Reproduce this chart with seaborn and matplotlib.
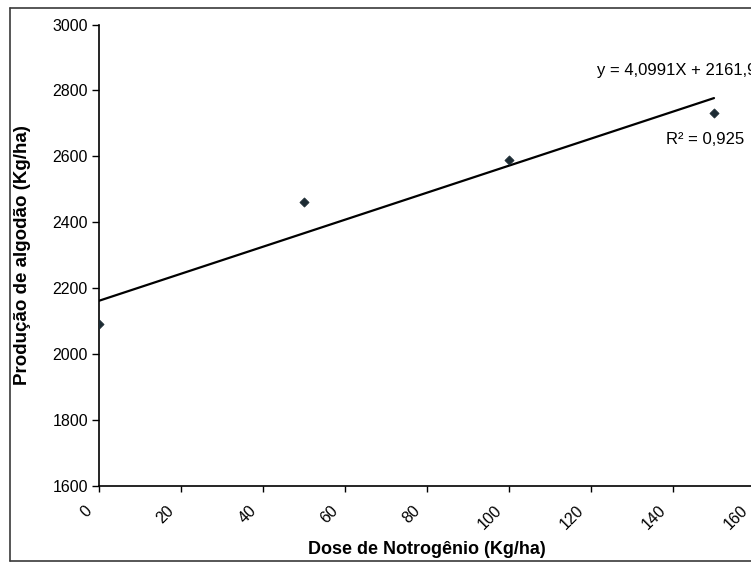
import matplotlib
matplotlib.use("Agg")
import matplotlib.pyplot as plt
from matplotlib.lines import Line2D
from matplotlib.transforms import ScaledTranslation
import numpy as np
import pandas as pd
import seaborn as sns

# Nitrogen dose trial: cotton yield per dose
doses = [0, 50, 100, 150]
yields = [2092, 2463, 2589, 2733]

# Linear trend reported on the chart
slope = 4.0991
intercept = 2161.9
r_squared = 0.925

x_ticks = [0, 20, 40, 60, 80, 100, 120, 140, 160]
y_ticks = [1600, 1800, 2000, 2200, 2400, 2600, 2800, 3000]

sns.set_theme(style="white")
plt.rcParams["font.family"] = ["Liberation Sans", "DejaVu Sans"]

W, H = 751, 563
fig = plt.figure(figsize=(W / 100, H / 100), dpi=100)
fig.patch.set_facecolor("white")

# plot area (extends slightly past the right edge of the figure)
left_px, right_px, top_px, bottom_px = 99, 755, 24.5, 486
ax = fig.add_axes([left_px / W, 1 - bottom_px / H,
                   (right_px - left_px) / W, (bottom_px - top_px) / H])
ax.set_facecolor("white")

df = pd.DataFrame({"dose": doses, "yield": yields})
trend = pd.DataFrame({"dose": [min(doses), max(doses)]})
trend["yield"] = slope * trend["dose"] + intercept

sns.lineplot(data=trend, x="dose", y="yield", ax=ax, color="black",
             linewidth=1.6, zorder=2)
sns.scatterplot(data=df, x="dose", y="yield", ax=ax, marker="D", s=22,
                color="#1c2b33", edgecolor="#1c2b33", linewidth=0.5, zorder=3)

ax.set_xlim(0, 160)
ax.set_ylim(1600, 3000)
ax.set_xticks(x_ticks)
ax.set_yticks(y_ticks)
ax.set_yticklabels([str(v) for v in y_ticks])
ax.set_xticklabels([])

# slanted x labels, ending just left of and below their ticks
label_tf = ax.get_xaxis_transform() + ScaledTranslation(-4 / 100, -17 / 100,
                                                        fig.dpi_scale_trans)
for v in x_ticks:
    ax.text(v, 0, str(v), transform=label_tf, rotation=45, fontsize=11.5,
            color="black", ha="right", va="top", clip_on=False)

for side in ("top", "right"):
    ax.spines[side].set_visible(False)
for side in ("left", "bottom"):
    ax.spines[side].set_color("black")
    ax.spines[side].set_linewidth(1.2)

ax.tick_params(axis="y", which="major", direction="out", length=5, width=1,
               color="black", labelsize=11.5, labelcolor="black", pad=3,
               left=True)
ax.tick_params(axis="x", which="major", direction="out", length=4, width=1,
               color="black", bottom=True)

ax.set_xlabel("Dose de Notrogênio (Kg/ha)", fontsize=13, fontweight="bold",
              color="black")
ax.set_ylabel("Produção de algodão (Kg/ha)", fontsize=13.5, fontweight="bold",
              color="black")
ax.xaxis.set_label_coords(0.5, (bottom_px - 541) / (bottom_px - top_px))
ax.yaxis.set_label_coords((31 - left_px) / (right_px - left_px), 0.5)

# trend equation and coefficient of determination
eq_text = "y = {}X + {}".format(f"{slope:.4f}".replace(".", ","),
                                f"{intercept:.1f}".replace(".", ","))
r2_text = "R² = {}".format(f"{r_squared:.3f}".replace(".", ","))
fig.text(597 / W, 1 - 71 / H, eq_text, fontsize=12, color="black",
         ha="left", va="center")
fig.text(666 / W, 1 - 139 / H, r2_text, fontsize=12, color="black",
         ha="left", va="center")

# chart-area border
border_kw = dict(color="#3a3a3a", linewidth=1.2, transform=fig.transFigure)
fig.add_artist(Line2D([10 / W, 10 / W], [1 - 8 / H, 1 - 561 / H], **border_kw))
fig.add_artist(Line2D([10 / W, 1.0], [1 - 8 / H, 1 - 8 / H], **border_kw))
fig.add_artist(Line2D([10 / W, 1.0], [1 - 561 / H, 1 - 561 / H], **border_kw))

fig.savefig("out.png", dpi=100, facecolor="white")
